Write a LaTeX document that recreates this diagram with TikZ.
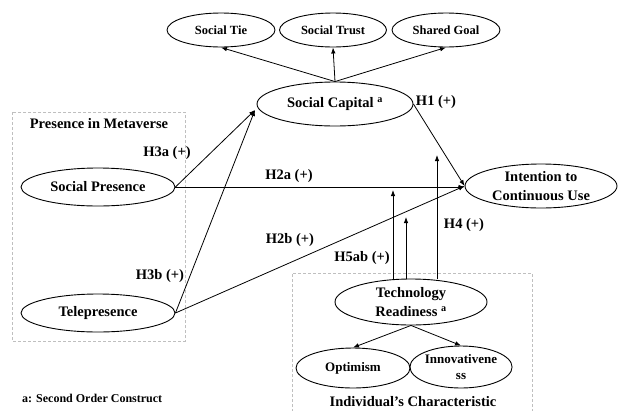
\documentclass[tikz,border=0pt]{standalone}
\usepackage{fontspec}
\setmainfont{Liberation Serif}
\usetikzlibrary{shapes.geometric,arrows.meta}
\begin{document}
\begin{tikzpicture}[x=1pt,y=-1pt,
  every node/.style={font=\bfseries\fontsize{14.5}{19}\selectfont},
  construct/.style={ellipse,draw,line width=0.9pt,inner sep=0pt,align=center},
  smalltext/.style={font=\bfseries\fontsize{12.5}{15}\selectfont},
  midtext/.style={font=\bfseries\fontsize{13}{16}\selectfont},
  arr/.style={-{Latex[length=6pt,width=4.5pt]},line width=0.8pt},
  groupbox/.style={draw=gray!50,dash pattern=on 3pt off 2pt,line width=0.8pt},
  lbl/.style={inner sep=0pt}]
\useasboundingbox (0,0) rectangle (620,410);
\fill[white] (0,0) rectangle (620,410);

% group boxes
\draw[groupbox] (12,112) rectangle (185,341);
\draw[groupbox] (292,412) -- (292,273) -- (532,273) -- (532,412);

% constructs
\node[construct,smalltext,minimum width=108pt,minimum height=34pt] (tie) at (221,30) {Social Tie};
\node[construct,smalltext,minimum width=107pt,minimum height=34pt] (trust) at (333,30) {Social Trust};
\node[construct,smalltext,minimum width=108pt,minimum height=34pt] (goal) at (446,30) {Shared Goal};
\node[construct,minimum width=156pt,minimum height=44pt] (sc) at (335,104) {Social Capital \textsuperscript{a}};
\node[construct,minimum width=154pt,minimum height=38pt] (sp) at (98,187) {Social Presence};
\node[construct,minimum width=154pt,minimum height=38pt] (tp) at (98,313) {Telepresence};
\node[construct,minimum width=152pt,minimum height=44pt] (ic) at (541,186) {Intention to\\Continuous Use};
\node[construct,minimum width=152pt,minimum height=46pt] (tr) at (411,302) {Technology\\Readiness \textsuperscript{a}};
\node[construct,midtext,minimum width=114pt,minimum height=40pt] (opt) at (353,368) {Optimism};
\node[construct,midtext,minimum width=98pt,minimum height=42pt] (inn) at (461,367) {Innovativene\\ss};

% labels
\node[lbl] (pim) at (99,124) {Presence in Metaverse};
\node[lbl] (ich) at (413,402) {Individual's Characteristic};
\node[lbl,font=\bfseries\fontsize{12}{14}\selectfont,anchor=west] (note) at (22,398) {a: Second Order Construct};
\node[lbl] (h3a) at (167,153) {H3a (+)};
\node[lbl] (h3b) at (160,276) {H3b (+)};
\node[lbl] (h2a) at (289,176) {H2a (+)};
\node[lbl] (h2b) at (290,240) {H2b (+)};
\node[lbl] (h1) at (436,102) {H1 (+)};
\node[lbl] (h5) at (362,258) {H5ab (+)};
\node[lbl] (h4) at (464,225) {H4 (+)};

% second-order arrows
\draw[arr] (sc.north) -- (tie.south);
\draw[arr] (sc.north) -- (trust.south);
\draw[arr] (sc.north) -- (goal.south);
\draw[arr] (tr.south) -- (opt.north);
\draw[arr] (tr.south) -- (inn.north);

% structural paths
\coordinate (scin) at (255,110);
\draw[arr] (sp.east) -- (scin);
\draw[arr] (tp.east) -- (scin);
\draw[arr] (sp.east) -- (sp.east -| ic.west);
\draw[arr] (tp.east) -- (ic.west);
\draw[arr] (sc.east) -- (ic.west);

% moderation arrows
\coordinate (m1) at (393,190);
\coordinate (m2) at (406,217);
\coordinate (m3) at (437,155);
\draw[arr] (tr.north -| m1) -- (m1);
\draw[arr] (tr.north -| m2) -- (m2);
\draw[arr] (tr.north -| m3) -- (m3);
\end{tikzpicture}
\end{document}
